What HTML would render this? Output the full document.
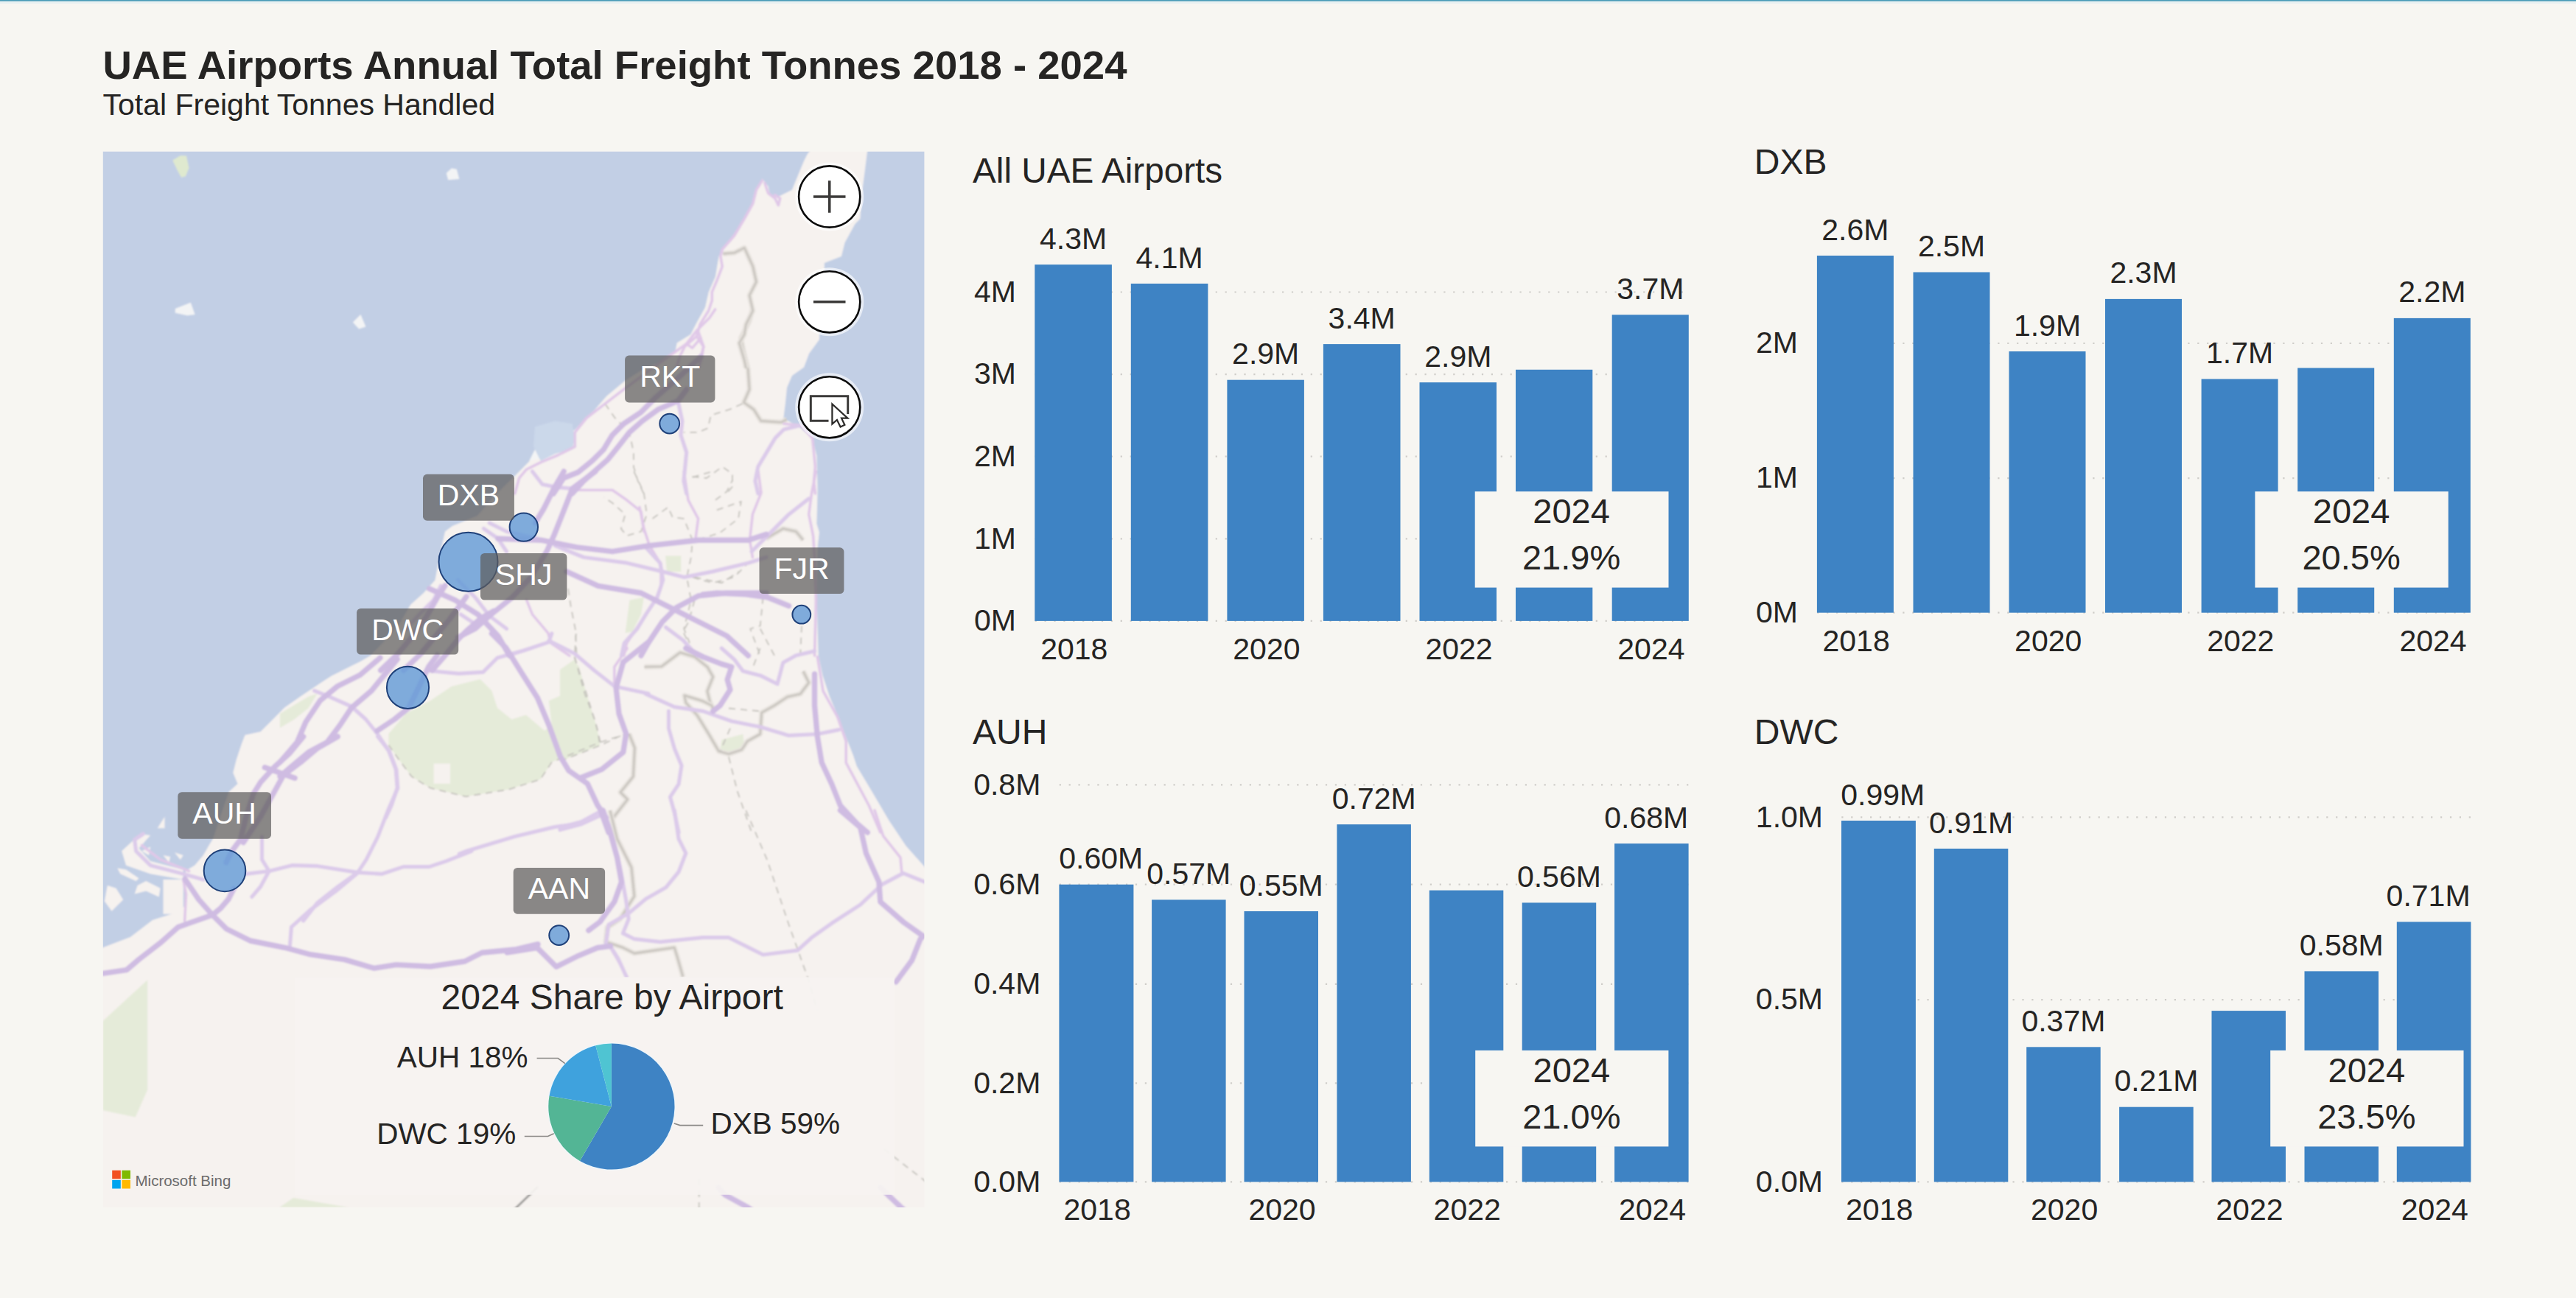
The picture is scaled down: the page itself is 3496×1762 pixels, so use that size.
<!DOCTYPE html>
<html lang="en"><head><meta charset="utf-8"><title>UAE Airports Annual Total Freight Tonnes 2018 - 2024</title>
<style>
html,body{margin:0;padding:0;background:#f7f6f2;overflow:hidden}
svg{display:block}
text{font-family:"Liberation Sans", Arial, sans-serif;}
</style></head><body>
<svg width="3496" height="1762" viewBox="0 0 3496 1762">
<rect x="0" y="0" width="3496" height="1762" fill="#f7f6f2"/>
<rect x="0" y="0" width="3496" height="5" fill="#e9f1f2"/>
<rect x="0" y="0" width="3496" height="1.6" fill="#4a9bb8"/>
<text x="139.5" y="107.2" font-size="54.5" text-anchor="start" fill="#252423" font-weight="bold" >UAE Airports Annual Total Freight Tonnes 2018 - 2024</text>
<text x="139.5" y="156.2" font-size="41" text-anchor="start" fill="#252423" font-weight="normal" >Total Freight Tonnes Handled</text>
<clipPath id="mapclip"><rect x="139.8" y="205.8" width="1114.6000000000001" height="1433.2"/></clipPath>
<filter id="soft" x="-2%" y="-2%" width="104%" height="104%"><feGaussianBlur stdDeviation="0.9"/></filter>
<g clip-path="url(#mapclip)">
<g filter="url(#soft)">
<rect x="119.80000000000001" y="185.8" width="1154.6000000000001" height="1473.2" fill="#c2cfe5"/>
<polygon points="1102.6,200.0 1095.7,209.2 1091.1,218.5 1085.3,232.4 1074.9,257.8 1063.3,263.5 1056.4,267.0 1044.9,264.7 1042.6,253.1 1034.5,242.7 1026.4,255.5 1021.8,273.9 1012.5,292.4 998.6,315.5 984.8,334.0 975.5,347.9 970.9,375.6 961.7,396.4 957.0,417.2 945.5,438.0 937.3,454.0 918.7,465.6 916.4,477.3 906.2,486.5 870.0,503.0 848.1,516.9 823.2,537.8 806.9,556.5 792.9,570.4 778.9,584.4 758.0,572.8 737.0,589.0 730.0,603.0 723.0,617.0 718.4,626.3 709.0,635.7 699.8,645.0 672.0,672.0 648.0,700.0 614.0,714.0 604.0,721.5 596.3,756.5 590.5,787.5 574.9,805.0 557.5,820.5 540.0,850.0 520.0,872.0 502.7,890.0 489.5,897.8 477.8,903.6 463.9,910.6 449.9,917.6 437.5,925.6 409.5,944.3 386.2,960.6 369.9,976.9 353.6,993.2 332.6,997.8 328.0,1009.5 321.0,1030.4 316.3,1049.0 322.5,1064.0 310.8,1074.7 300.0,1105.0 289.5,1137.8 283.6,1147.5 275.9,1161.1 264.2,1174.7 252.0,1182.0 251.0,1198.0 251.0,1230.0 235.0,1240.0 207.0,1249.0 177.0,1272.0 158.0,1279.3 139.8,1286.3 130.0,1290.0 130.0,1650.0 1260.0,1650.0 1260.0,1184.0 1254.5,1176.3 1229.7,1148.6 1206.6,1113.9 1183.5,1074.7 1162.7,1040.0 1158.1,1025.7 1148.9,1002.6 1137.3,972.6 1125.7,944.9 1116.5,917.1 1110.7,889.4 1109.6,852.4 1108.4,806.0 1109.6,743.4 1111.9,722.6 1108.4,711.1 1109.6,664.9 1108.4,618.6 1102.6,595.5 1085.0,580.0 1063.3,567.8 1065.7,549.3 1068.0,526.2 1074.9,510.0 1091.1,498.5 1098.0,480.0 1111.9,461.1 1113.0,420.0 1116.0,390.0 1118.8,366.4 1118.8,357.1 1141.9,347.9 1146.5,329.4 1160.4,304.0 1167.3,297.0 1170.0,260.0 1174.0,230.0 1176.6,209.0 1178.0,200.0" fill="#f6f2ef"/>
<polygon points="903.0,754.5 924.3,754.5 924.3,775.9 904.9,775.9" fill="#e5ebd9"/>
<polygon points="854.4,814.7 873.9,810.8 870.0,834.1 858.3,857.4 848.6,859.3" fill="#e5ebd9"/>
<polygon points="527.5,995.9 550.8,968.7 583.8,951.2 612.9,931.8 651.7,922.1 667.3,937.6 675.0,960.9 694.4,976.5 713.9,970.6 739.1,992.0 748.8,984.2 744.9,951.2 776.0,937.6 779.8,898.8 785.7,904.6 812.8,1003.6 748.8,1034.7 733.3,1058.0 690.6,1071.6 632.3,1081.3 583.8,1069.6 558.6,1054.1 541.1,1030.8 527.5,1011.4" fill="#e5ebd9"/>
<polygon points="380.0,968.7 399.4,957.0 418.8,945.4 430.5,941.5 418.8,960.9 399.4,976.5 380.0,988.1" fill="#e5ebd9"/>
<polygon points="760.0,909.1 779.4,895.5 794.9,938.2 810.5,988.7 814.3,1012.0 760.0,1033.3" fill="#e5ebd9"/>
<polygon points="979.3,1004.2 1008.4,996.5 1010.4,1015.9 991.0,1023.6 977.4,1017.8" fill="#e5ebd9"/>
<polygon points="139.6,1386.1 200.2,1330.2 200.2,1479.2 183.8,1516.5 139.6,1507.2" fill="#e5ebd9"/>
<polygon points="398.1,1626.0 472.7,1639.0 379.5,1639.0" fill="#e5ebd9"/>
<polygon points="234.3,217.5 244.8,211.2 253.0,211.6 256.5,228.0 251.8,239.6 246.0,240.8 240.2,230.3" fill="#dfe9cf"/>
<polygon points="605.8,234.9 612.8,228.4 619.8,229.8 623.3,243.1 608.2,244.3" fill="#f3f4f5"/>
<polygon points="237.8,418.9 258.8,410.8 264.6,427.1 254.1,428.3 237.8,424.8" fill="#f3f4f5"/>
<polygon points="478.9,437.6 489.4,427.1 496.4,443.4 487.1,446.4" fill="#f3f4f5"/>
<polygon points="733.8,594.7 724.1,614.1 718.2,625.7 733.8,621.9" fill="#f3f4f5"/>
<polygon points="726.0,579.2 753.2,571.4 776.5,575.3 780.3,594.7 776.5,610.2 753.2,616.0 733.8,625.7 724.1,606.3" fill="#cbd8ea"/>
<polygon points="588.7,1036.6 611.0,1036.6 611.0,1063.8 588.7,1063.8" fill="#f6f2ef"/>
<polygon points="165.2,1155.3 190.5,1132.0 204.1,1133.9 188.5,1151.4 204.1,1168.9 248.7,1180.5 248.7,1194.1 204.1,1186.3 171.1,1174.7" fill="#f6f2ef"/>
<polygon points="159.4,1178.6 171.1,1180.5 188.5,1192.2 184.6,1196.0 163.3,1186.3" fill="#f6f2ef"/>
<polygon points="186.6,1201.9 198.2,1196.0 217.6,1205.7 215.7,1217.4 198.2,1209.6 182.7,1213.5" fill="#f6f2ef"/>
<polygon points="145.8,1201.9 157.5,1205.7 167.2,1221.3 151.6,1236.8 141.9,1223.2" fill="#f6f2ef"/>
<polygon points="192.4,1155.3 204.1,1149.5 202.1,1161.1" fill="#f6f2ef"/>
<polygon points="221.5,1161.1 231.2,1163.0 229.3,1170.8" fill="#f6f2ef"/>
<polygon points="237.0,1157.2 248.7,1161.1 244.8,1166.9" fill="#f6f2ef"/>
<polygon points="213.8,1124.2 223.5,1108.7 223.5,1124.2" fill="#f6f2ef"/>
<polygon points="221.5,1194.1 248.7,1194.1 248.7,1240.7 221.5,1240.7" fill="#f6f2ef"/>
<polyline points="1021.0,420.0 1017.1,435.5 1005.5,458.8 1009.4,478.2 1015.2,501.5 1017.1,528.7 1009.4,546.2 1023.0,555.9 1032.7,571.4 1059.8,573.3 1067.6,569.5" fill="none" stroke="#e6e2dd" stroke-width="7" stroke-linejoin="round"/>
<polyline points="1021.0,420.0 1017.1,435.5 1005.5,458.8 1009.4,478.2 1015.2,501.5 1017.1,528.7 1009.4,546.2 1023.0,555.9 1032.7,571.4 1059.8,573.3 1067.6,569.5" fill="none" stroke="#c9c5bf" stroke-width="2.6" stroke-linejoin="round"/>
<polyline points="853.6,995.9 861.4,1015.3 859.4,1054.1 842.0,1075.5 851.7,1085.2 832.3,1110.0" fill="none" stroke="#e6e2dd" stroke-width="7" stroke-linejoin="round"/>
<polyline points="853.6,995.9 861.4,1015.3 859.4,1054.1 842.0,1075.5 851.7,1085.2 832.3,1110.0" fill="none" stroke="#c9c5bf" stroke-width="2.6" stroke-linejoin="round"/>
<polyline points="1039.5,731.2 1062.8,717.6 1080.3,721.5 1090.0,733.2" fill="none" stroke="#e6e2dd" stroke-width="7" stroke-linejoin="round"/>
<polyline points="1039.5,731.2 1062.8,717.6 1080.3,721.5 1090.0,733.2" fill="none" stroke="#c9c5bf" stroke-width="2.6" stroke-linejoin="round"/>
<polyline points="874.5,905.2 897.8,904.8 923.0,885.8 942.5,891.6 959.9,905.2 967.7,918.8 959.9,938.2 963.8,953.8 969.6,965.4" fill="none" stroke="#e6e2dd" stroke-width="7" stroke-linejoin="round"/>
<polyline points="874.5,905.2 897.8,904.8 923.0,885.8 942.5,891.6 959.9,905.2 967.7,918.8 959.9,938.2 963.8,953.8 969.6,965.4" fill="none" stroke="#c9c5bf" stroke-width="2.6" stroke-linejoin="round"/>
<polyline points="965.7,957.6 954.1,951.8 928.9,944.1 930.8,953.8 946.3,971.2 961.9,996.5 975.5,1019.8 989.0,1023.6 1006.5,1017.8 1014.3,1006.2 1031.7,996.5 1033.7,967.3 1051.1,957.6 1068.6,946.0 1086.1,942.1 1097.7,926.6 1090.0,911.1" fill="none" stroke="#e6e2dd" stroke-width="7" stroke-linejoin="round"/>
<polyline points="965.7,957.6 954.1,951.8 928.9,944.1 930.8,953.8 946.3,971.2 961.9,996.5 975.5,1019.8 989.0,1023.6 1006.5,1017.8 1014.3,1006.2 1031.7,996.5 1033.7,967.3 1051.1,957.6 1068.6,946.0 1086.1,942.1 1097.7,926.6 1090.0,911.1" fill="none" stroke="#c9c5bf" stroke-width="2.6" stroke-linejoin="round"/>
<polyline points="827.9,1100.0 837.6,1138.8 857.0,1177.6 860.9,1216.5 841.5,1247.5 824.1,1259.2 822.1,1278.6 845.4,1286.3 860.9,1294.1 915.3,1286.3 921.1,1305.7 926.9,1326.1" fill="none" stroke="#e6e2dd" stroke-width="7" stroke-linejoin="round"/>
<polyline points="827.9,1100.0 837.6,1138.8 857.0,1177.6 860.9,1216.5 841.5,1247.5 824.1,1259.2 822.1,1278.6 845.4,1286.3 860.9,1294.1 915.3,1286.3 921.1,1305.7 926.9,1326.1" fill="none" stroke="#c9c5bf" stroke-width="2.6" stroke-linejoin="round"/>
<polyline points="981.3,344.4 996.3,343.3 1010.2,336.3 1021.8,361.8 1026.4,382.6 1017.1,401.0 1021.8,421.8 1012.5,440.3 1010.2,454.2 1003.3,465.7 1010.2,488.9 1012.5,499.9" fill="none" stroke="#e6e2dd" stroke-width="7" stroke-linejoin="round"/>
<polyline points="981.3,344.4 996.3,343.3 1010.2,336.3 1021.8,361.8 1026.4,382.6 1017.1,401.0 1021.8,421.8 1012.5,440.3 1010.2,454.2 1003.3,465.7 1010.2,488.9 1012.5,499.9" fill="none" stroke="#c9c5bf" stroke-width="2.6" stroke-linejoin="round"/>
<polyline points="1007.4,548.1 990.0,555.9 964.7,563.6 960.9,581.1 947.3,586.9 927.9,586.9" fill="none" stroke="#c4c2bc" stroke-width="1.8" stroke-dasharray="9 7" stroke-linejoin="round"/>
<polyline points="821.1,548.1 834.7,567.5 854.1,586.9 859.9,614.1 859.9,633.5 865.7,652.9 873.5,670.0" fill="none" stroke="#c4c2bc" stroke-width="1.8" stroke-dasharray="9 7" stroke-linejoin="round"/>
<polyline points="939.5,647.1 958.9,649.0 980.3,633.5 993.9,643.2 993.9,660.7 986.1,670.0" fill="none" stroke="#c4c2bc" stroke-width="1.8" stroke-dasharray="9 7" stroke-linejoin="round"/>
<polyline points="771.0,799.2 774.9,824.4 780.7,853.5 782.6,890.0" fill="none" stroke="#c4c2bc" stroke-width="1.8" stroke-dasharray="9 7" stroke-linejoin="round"/>
<polyline points="860.3,640.0 873.9,669.1 877.7,698.2 870.0,721.5 850.6,727.3 842.8,717.6 848.6,698.2 831.1,682.7 819.5,674.9" fill="none" stroke="#c4c2bc" stroke-width="1.8" stroke-dasharray="9 7" stroke-linejoin="round"/>
<polyline points="885.5,704.1 906.8,688.5 912.7,702.1 928.2,704.1 939.8,733.2 937.9,756.5 932.1,783.6 937.9,814.7 928.2,853.5 936.0,872.9" fill="none" stroke="#c4c2bc" stroke-width="1.8" stroke-dasharray="9 7" stroke-linejoin="round"/>
<polyline points="939.8,647.8 967.0,640.0" fill="none" stroke="#c4c2bc" stroke-width="1.8" stroke-dasharray="9 7" stroke-linejoin="round"/>
<polyline points="970.9,678.8 986.4,667.2 994.2,651.6" fill="none" stroke="#c4c2bc" stroke-width="1.8" stroke-dasharray="9 7" stroke-linejoin="round"/>
<polyline points="972.8,692.4 1005.8,680.8 1002.0,704.1 976.7,723.5 951.5,731.2" fill="none" stroke="#c4c2bc" stroke-width="1.8" stroke-dasharray="9 7" stroke-linejoin="round"/>
<polyline points="939.8,783.6 967.0,791.4 996.1,783.6 1015.5,764.2" fill="none" stroke="#c4c2bc" stroke-width="1.8" stroke-dasharray="9 7" stroke-linejoin="round"/>
<polyline points="781.8,860.0 779.8,891.1 793.4,941.5 807.0,976.5 814.8,1007.5 748.8,1034.7 733.3,1058.0 690.6,1071.6 632.3,1081.3 583.8,1069.6 558.6,1054.1 541.1,1030.8 527.5,1011.4" fill="none" stroke="#c4c2bc" stroke-width="1.8" stroke-dasharray="9 7" stroke-linejoin="round"/>
<polyline points="814.8,1007.5 851.7,995.9" fill="none" stroke="#c4c2bc" stroke-width="1.8" stroke-dasharray="9 7" stroke-linejoin="round"/>
<polyline points="1035.6,810.8 1031.7,849.6 1018.2,853.5 1031.7,890.0" fill="none" stroke="#c4c2bc" stroke-width="1.8" stroke-dasharray="9 7" stroke-linejoin="round"/>
<polyline points="1088.0,849.6 1086.1,890.0" fill="none" stroke="#c4c2bc" stroke-width="1.8" stroke-dasharray="9 7" stroke-linejoin="round"/>
<polyline points="1031.7,853.5 1051.1,890.0" fill="none" stroke="#c4c2bc" stroke-width="1.8" stroke-dasharray="9 7" stroke-linejoin="round"/>
<polyline points="942.5,783.6 979.3,791.4 1002.6,775.9" fill="none" stroke="#c4c2bc" stroke-width="1.8" stroke-dasharray="9 7" stroke-linejoin="round"/>
<polyline points="942.5,814.7 934.7,843.8 926.9,857.4 934.7,872.9" fill="none" stroke="#c4c2bc" stroke-width="1.8" stroke-dasharray="9 7" stroke-linejoin="round"/>
<polyline points="779.4,891.6 794.9,938.2 810.5,988.7 814.3,1012.0" fill="none" stroke="#c4c2bc" stroke-width="1.8" stroke-dasharray="9 7" stroke-linejoin="round"/>
<polyline points="760.0,1033.3 814.3,1012.0 847.3,996.5" fill="none" stroke="#c4c2bc" stroke-width="1.8" stroke-dasharray="9 7" stroke-linejoin="round"/>
<polyline points="989.0,961.5 1031.7,965.4" fill="none" stroke="#c4c2bc" stroke-width="1.8" stroke-dasharray="9 7" stroke-linejoin="round"/>
<polyline points="991.0,988.7 977.4,1019.8" fill="none" stroke="#c4c2bc" stroke-width="1.8" stroke-dasharray="9 7" stroke-linejoin="round"/>
<polyline points="989.0,1027.5 1000.7,1074.1 1020.1,1130.0" fill="none" stroke="#c4c2bc" stroke-width="1.8" stroke-dasharray="9 7" stroke-linejoin="round"/>
<polyline points="1031.7,880.0 1022.0,905.2" fill="none" stroke="#c4c2bc" stroke-width="1.8" stroke-dasharray="9 7" stroke-linejoin="round"/>
<polyline points="1012.3,1100.0 1041.4,1167.9 1070.6,1255.3 1095.8,1326.1 1109.4,1371.7" fill="none" stroke="#c4c2bc" stroke-width="1.8" stroke-dasharray="9 7" stroke-linejoin="round"/>
<polyline points="948.7,1600.0 948.7,1645.0" fill="none" stroke="#c4c2bc" stroke-width="1.8" stroke-dasharray="9 7" stroke-linejoin="round"/>
<polyline points="1200.0,1560.0 1214.0,1571.0 1254.0,1602.0 1270.0,1615.0" fill="none" stroke="#c4c2bc" stroke-width="1.8" stroke-dasharray="9 7" stroke-linejoin="round"/>
<polyline points="690.0,1650.0 701.0,1639.0 718.6,1622.0 730.0,1611.0" fill="none" stroke="#9b9a98" stroke-width="3"/>
<polyline points="970.6,420.0 962.8,431.6 945.3,449.1 931.7,466.6 918.2,476.3 883.2,501.5 846.3,528.7 821.1,548.1 795.9,567.5 780.3,586.9 780.3,606.3 757.0,618.0 733.8,627.7 714.3,637.4 704.6,649.0 698.8,670.0" fill="none" stroke="#e0c8e8" stroke-width="3.6" stroke-linejoin="round" stroke-linecap="round"/>
<polyline points="947.3,449.1 955.0,470.5 951.1,484.1 935.6,497.6" fill="none" stroke="#e0c8e8" stroke-width="3.6" stroke-linejoin="round" stroke-linecap="round"/>
<polyline points="931.7,466.6 939.5,472.4 951.1,458.8" fill="none" stroke="#e0c8e8" stroke-width="3.6" stroke-linejoin="round" stroke-linecap="round"/>
<polyline points="1063.7,575.3 1087.0,577.2 1102.5,594.7 1104.5,614.1 1106.4,633.5 1104.5,652.9 1106.4,670.0" fill="none" stroke="#e0c8e8" stroke-width="3.6" stroke-linejoin="round" stroke-linecap="round"/>
<polyline points="868.0,688.5 873.9,717.6 881.6,740.9 897.1,766.2 897.1,795.3 889.4,814.7 870.0,843.8 850.6,872.9 846.7,890.0" fill="none" stroke="#e0c8e8" stroke-width="3.6" stroke-linejoin="round" stroke-linecap="round"/>
<polyline points="772.9,665.2 831.1,665.2 850.6,678.8 870.0,694.3 873.9,721.5" fill="none" stroke="#e0c8e8" stroke-width="3.6" stroke-linejoin="round" stroke-linecap="round"/>
<polyline points="928.2,640.0 934.0,678.8 947.6,704.1 943.7,733.2" fill="none" stroke="#e0c8e8" stroke-width="3.6" stroke-linejoin="round" stroke-linecap="round"/>
<polyline points="1029.1,640.0 1033.0,669.1 1021.4,698.2 1017.5,733.2 1021.4,756.5" fill="none" stroke="#e0c8e8" stroke-width="3.6" stroke-linejoin="round" stroke-linecap="round"/>
<polyline points="714.7,814.7 722.5,834.1 743.8,859.3 747.7,872.9 772.9,890.0" fill="none" stroke="#e0c8e8" stroke-width="3.6" stroke-linejoin="round" stroke-linecap="round"/>
<polyline points="747.7,871.0 714.7,882.6 691.4,890.0" fill="none" stroke="#e0c8e8" stroke-width="3.6" stroke-linejoin="round" stroke-linecap="round"/>
<polyline points="256.5,1182.5 217.6,1166.9 192.4,1147.5" fill="none" stroke="#e0c8e8" stroke-width="3.6" stroke-linejoin="round" stroke-linecap="round"/>
<polyline points="248.7,1194.1 252.6,1213.5 250.6,1250.0" fill="none" stroke="#e0c8e8" stroke-width="3.6" stroke-linejoin="round" stroke-linecap="round"/>
<polyline points="1107.4,640.0 1101.6,669.1 1097.7,698.2 1103.6,727.3 1105.5,756.5 1107.4,814.7 1105.5,890.0" fill="none" stroke="#e0c8e8" stroke-width="3.6" stroke-linejoin="round" stroke-linecap="round"/>
<polyline points="851.2,880.0 833.8,905.2 833.8,932.4" fill="none" stroke="#e0c8e8" stroke-width="3.6" stroke-linejoin="round" stroke-linecap="round"/>
<polyline points="1109.4,891.6 1117.1,938.2 1136.6,973.2 1148.2,1006.2 1148.2,1035.3 1163.7,1064.4 1179.3,1093.5 1194.8,1130.0" fill="none" stroke="#e0c8e8" stroke-width="3.6" stroke-linejoin="round" stroke-linecap="round"/>
<polyline points="1187.0,1100.0 1198.7,1134.9 1222.0,1164.1 1223.9,1185.4" fill="none" stroke="#e0c8e8" stroke-width="3.6" stroke-linejoin="round" stroke-linecap="round"/>
<polyline points="760.0,1309.6 808.5,1286.3 826.0,1282.5 837.6,1301.9 851.2,1326.1" fill="none" stroke="#e0c8e8" stroke-width="3.6" stroke-linejoin="round" stroke-linecap="round"/>
<polyline points="1034.5,245.1 1026.4,257.8 1021.8,276.3 1010.2,297.1 996.3,320.2 980.2,338.6 977.9,347.9 980.2,361.8 973.2,380.2 966.3,396.4 966.3,408.0 961.7,421.8 950.1,440.3 945.5,456.5 929.3,470.4 922.4,484.2 917.8,499.9" fill="none" stroke="#e0c8e8" stroke-width="3.6" stroke-linejoin="round" stroke-linecap="round"/>
<polyline points="945.5,456.5 954.7,470.4 952.4,486.5 947.8,499.9" fill="none" stroke="#e0c8e8" stroke-width="3.6" stroke-linejoin="round" stroke-linecap="round"/>
<polyline points="1037.9,248.5 1042.6,262.4 1051.8,269.3 1056.4,278.6 1058.7,269.3 1051.8,264.7" fill="none" stroke="#e0c8e8" stroke-width="3.6" stroke-linejoin="round" stroke-linecap="round"/>
<polyline points="920.1,544.2 925.9,571.4 924.0,590.8 931.7,614.1 929.8,633.5 927.9,652.9 931.7,670.0" fill="none" stroke="#dccbea" stroke-width="5.2" stroke-linejoin="round" stroke-linecap="round"/>
<polyline points="1087.0,577.2 1063.7,583.0 1052.1,594.7 1040.4,614.1 1028.8,633.5 1024.9,652.9 1028.8,670.0" fill="none" stroke="#dccbea" stroke-width="5.2" stroke-linejoin="round" stroke-linecap="round"/>
<polyline points="722.5,640.0 736.0,657.5 755.5,661.4 776.8,663.3" fill="none" stroke="#dccbea" stroke-width="5.2" stroke-linejoin="round" stroke-linecap="round"/>
<polyline points="753.5,740.9 792.3,756.5 850.6,764.2 899.1,775.9 928.2,783.6 967.0,775.9 1015.5,764.2 1040.0,756.5" fill="none" stroke="#dccbea" stroke-width="5.2" stroke-linejoin="round" stroke-linecap="round"/>
<polyline points="621.5,787.5 644.8,810.8 664.2,836.0 687.5,853.5" fill="none" stroke="#dccbea" stroke-width="5.2" stroke-linejoin="round" stroke-linecap="round"/>
<polyline points="598.2,795.3 588.5,814.7 569.1,834.1 551.6,853.5" fill="none" stroke="#dccbea" stroke-width="5.2" stroke-linejoin="round" stroke-linecap="round"/>
<polyline points="656.5,717.6 675.9,731.2 687.5,748.7" fill="none" stroke="#dccbea" stroke-width="5.2" stroke-linejoin="round" stroke-linecap="round"/>
<polyline points="664.2,709.9 687.5,721.5 730.2,731.2" fill="none" stroke="#dccbea" stroke-width="5.2" stroke-linejoin="round" stroke-linecap="round"/>
<polyline points="625.4,834.1 648.7,849.6 664.2,836.0" fill="none" stroke="#dccbea" stroke-width="5.2" stroke-linejoin="round" stroke-linecap="round"/>
<polyline points="426.6,937.6 446.0,945.4 477.0,959.0 496.5,976.5 512.0,995.9 527.5,1019.2 537.2,1044.4 539.2,1069.6 531.4,1092.9 523.6,1110.0" fill="none" stroke="#dccbea" stroke-width="5.2" stroke-linejoin="round" stroke-linecap="round"/>
<polyline points="581.9,910.5 622.6,914.3 655.6,912.4 675.0,893.0 710.0,883.3 744.9,871.6 748.8,860.0" fill="none" stroke="#dccbea" stroke-width="5.2" stroke-linejoin="round" stroke-linecap="round"/>
<polyline points="744.9,869.7 779.8,887.2 807.0,910.5 834.2,931.8 880.0,941.5" fill="none" stroke="#dccbea" stroke-width="5.2" stroke-linejoin="round" stroke-linecap="round"/>
<polyline points="512.7,1000.0 528.2,1019.4 537.9,1044.6 539.8,1069.9 526.3,1100.9 512.7,1135.9 497.1,1166.9 485.5,1184.4 458.3,1203.8 431.1,1225.2 411.7,1250.0" fill="none" stroke="#dccbea" stroke-width="5.2" stroke-linejoin="round" stroke-linecap="round"/>
<polyline points="334.1,1186.3 365.2,1182.5 396.2,1174.7 431.1,1175.7 485.5,1184.4 518.5,1186.3 547.6,1176.6 582.5,1176.6 605.8,1168.9 640.0,1155.3" fill="none" stroke="#dccbea" stroke-width="5.2" stroke-linejoin="round" stroke-linecap="round"/>
<polyline points="355.5,1135.9 355.5,1166.9 365.2,1182.5 353.5,1203.8 341.9,1217.4" fill="none" stroke="#dccbea" stroke-width="5.2" stroke-linejoin="round" stroke-linecap="round"/>
<polyline points="275.9,1194.1 248.7,1186.3 204.1,1174.7 184.6,1155.3 182.7,1139.8 194.3,1132.0" fill="none" stroke="#dccbea" stroke-width="5.2" stroke-linejoin="round" stroke-linecap="round"/>
<polyline points="393.2,1286.3 395.5,1258.4 421.2,1235.1 456.1,1209.5 484.0,1186.2" fill="none" stroke="#dccbea" stroke-width="5.2" stroke-linejoin="round" stroke-linecap="round"/>
<polyline points="1097.7,676.9 1070.6,698.2 1041.4,727.3 1020.1,748.7" fill="none" stroke="#dccbea" stroke-width="5.2" stroke-linejoin="round" stroke-linecap="round"/>
<polyline points="903.6,851.6 926.9,869.0 946.3,890.0" fill="none" stroke="#dccbea" stroke-width="5.2" stroke-linejoin="round" stroke-linecap="round"/>
<polyline points="876.5,742.9 895.9,764.2 899.8,787.5 892.0,810.8 876.5,834.1 864.8,853.5 847.3,872.9 843.5,890.0" fill="none" stroke="#dccbea" stroke-width="5.2" stroke-linejoin="round" stroke-linecap="round"/>
<polyline points="876.5,942.1 915.3,959.6 954.1,965.4 992.9,979.0 1031.7,986.8 1070.6,998.4 1109.4,996.5 1138.5,990.6" fill="none" stroke="#dccbea" stroke-width="5.2" stroke-linejoin="round" stroke-linecap="round"/>
<polyline points="907.5,965.4 907.5,988.7 915.3,1015.9 925.0,1039.2 921.1,1064.4 909.5,1081.9 915.3,1103.2 921.1,1130.0" fill="none" stroke="#dccbea" stroke-width="5.2" stroke-linejoin="round" stroke-linecap="round"/>
<polyline points="979.3,880.0 996.8,895.5 1008.4,911.1 1031.7,916.9 1055.0,928.5 1062.8,899.4 1080.3,889.7 1105.5,883.9" fill="none" stroke="#dccbea" stroke-width="5.2" stroke-linejoin="round" stroke-linecap="round"/>
<polyline points="760.0,1126.5 789.1,1118.7 814.3,1107.1" fill="none" stroke="#dccbea" stroke-width="5.2" stroke-linejoin="round" stroke-linecap="round"/>
<polyline points="760.0,1123.3 789.1,1115.5 814.3,1101.9" fill="none" stroke="#dccbea" stroke-width="5.2" stroke-linejoin="round" stroke-linecap="round"/>
<polyline points="826.0,1119.4 841.5,1177.6 849.3,1220.3 853.2,1247.5 845.4,1266.9 860.9,1274.7 895.9,1278.6 954.1,1272.7 989.0,1272.7 1012.3,1284.4 1035.6,1296.0 1082.2,1290.2 1101.6,1272.7 1128.8,1253.3 1167.6,1228.1 1196.7,1200.9 1225.8,1185.4 1254.6,1197.0" fill="none" stroke="#dccbea" stroke-width="5.2" stroke-linejoin="round" stroke-linecap="round"/>
<polyline points="915.3,1100.0 921.1,1138.8 930.8,1158.2 921.1,1183.5 903.6,1204.8 876.5,1220.3 853.2,1239.8 826.0,1255.3 822.1,1282.5" fill="none" stroke="#dccbea" stroke-width="5.2" stroke-linejoin="round" stroke-linecap="round"/>
<polyline points="623.3,1159.2 634.1,1154.9 698.8,1135.5 752.8,1122.6 785.1,1118.2 817.5,1103.1" fill="none" stroke="#dccbea" stroke-width="5.2" stroke-linejoin="round" stroke-linecap="round"/>
<polyline points="828.3,1284.3 839.1,1301.6 849.8,1325.3" fill="none" stroke="#dccbea" stroke-width="5.2" stroke-linejoin="round" stroke-linecap="round"/>
<polyline points="951.1,484.1 920.1,513.2 889.0,540.3 869.6,559.8 846.3,575.3 830.8,590.8 819.2,610.2 803.6,625.7 784.2,641.3 764.8,649.0 751.2,670.0" fill="none" stroke="#cfbce2" stroke-width="7.4" stroke-linejoin="round" stroke-linecap="round"/>
<polyline points="931.7,528.7 920.1,544.2 892.9,555.9 871.6,571.4 854.1,586.9 840.5,604.4 825.0,623.8 807.5,639.3 792.0,652.9 776.5,670.0" fill="none" stroke="#cfbce2" stroke-width="7.4" stroke-linejoin="round" stroke-linecap="round"/>
<polyline points="807.9,640.0 776.8,663.3 763.2,698.2 751.6,727.3 741.9,748.7 720.5,783.6 695.3,810.8 664.2,836.0 644.8,853.5 621.5,865.2" fill="none" stroke="#cfbce2" stroke-width="7.4" stroke-linejoin="round" stroke-linecap="round"/>
<polyline points="765.2,640.0 751.6,663.3 738.0,690.5 726.3,709.9" fill="none" stroke="#cfbce2" stroke-width="7.4" stroke-linejoin="round" stroke-linecap="round"/>
<polyline points="675.9,731.2 734.1,733.2 782.6,742.9 831.1,748.7 879.7,740.9 947.6,733.2 1015.5,733.2 1040.0,725.4" fill="none" stroke="#cfbce2" stroke-width="7.4" stroke-linejoin="round" stroke-linecap="round"/>
<polyline points="769.0,775.9 811.7,795.3 870.0,805.0 908.8,824.4 947.6,843.8 986.4,863.2 1015.5,890.0" fill="none" stroke="#cfbce2" stroke-width="7.4" stroke-linejoin="round" stroke-linecap="round"/>
<polyline points="1040.0,805.0 986.4,805.0 947.6,808.9 918.5,824.4 899.1,843.8 879.7,872.9 870.0,890.0" fill="none" stroke="#cfbce2" stroke-width="7.4" stroke-linejoin="round" stroke-linecap="round"/>
<polyline points="582.7,799.2 617.6,814.7 648.7,834.1 675.9,863.2 691.4,890.0" fill="none" stroke="#cfbce2" stroke-width="7.4" stroke-linejoin="round" stroke-linecap="round"/>
<polyline points="593.5,889.1 581.9,904.6 554.7,960.9 535.3,976.5 512.0,992.0" fill="none" stroke="#cfbce2" stroke-width="7.4" stroke-linejoin="round" stroke-linecap="round"/>
<polyline points="515.9,893.0 488.7,916.3 457.6,931.8 434.3,951.2 414.9,980.3 403.3,1007.5 380.0,1034.7" fill="none" stroke="#cfbce2" stroke-width="7.4" stroke-linejoin="round" stroke-linecap="round"/>
<polyline points="539.2,894.9 504.2,937.6 477.0,960.9 461.5,984.2 444.1,1007.5 418.8,1021.1 395.5,1040.5 380.0,1054.1" fill="none" stroke="#cfbce2" stroke-width="7.4" stroke-linejoin="round" stroke-linecap="round"/>
<polyline points="667.3,860.0 686.7,879.4 706.1,910.5 729.4,947.3 744.9,984.2 760.4,1026.9 772.1,1046.3 797.3,1063.8 810.9,1092.9 822.5,1110.0" fill="none" stroke="#cfbce2" stroke-width="7.4" stroke-linejoin="round" stroke-linecap="round"/>
<polyline points="880.0,871.6 845.8,898.8 836.1,933.8 840.0,968.7 849.7,995.9 845.8,1021.1 816.7,1044.4 787.6,1056.0" fill="none" stroke="#cfbce2" stroke-width="7.4" stroke-linejoin="round" stroke-linecap="round"/>
<polyline points="411.7,1000.0 392.3,1023.3 372.9,1040.8 353.5,1062.1 343.8,1077.6 334.1,1108.7 326.3,1139.8 314.7,1155.3 306.9,1170.8" fill="none" stroke="#cfbce2" stroke-width="7.4" stroke-linejoin="round" stroke-linecap="round"/>
<polyline points="458.3,1000.0 431.1,1015.5 407.9,1034.9 384.6,1052.4 372.9,1073.8 353.5,1108.7 330.2,1143.6" fill="none" stroke="#cfbce2" stroke-width="7.4" stroke-linejoin="round" stroke-linecap="round"/>
<polyline points="359.3,1041.7 400.1,1056.3" fill="none" stroke="#cfbce2" stroke-width="7.4" stroke-linejoin="round" stroke-linecap="round"/>
<polyline points="251.1,1193.2 269.8,1221.1 288.4,1242.1 307.0,1260.7 339.6,1277.0 386.2,1286.3 421.2,1295.7 467.7,1302.6 507.3,1314.3 537.6,1309.6 584.2,1312.0 630.8,1305.0 654.1,1293.3 700.7,1288.7 730.0,1281.7" fill="none" stroke="#cfbce2" stroke-width="7.4" stroke-linejoin="round" stroke-linecap="round"/>
<polyline points="288.4,1242.1 241.8,1258.4 218.5,1279.3 188.2,1302.6 171.9,1316.6 139.8,1321.3" fill="none" stroke="#cfbce2" stroke-width="7.4" stroke-linejoin="round" stroke-linecap="round"/>
<polyline points="954.1,806.9 973.5,805.0 1012.3,806.9 1041.4,810.8 1070.6,822.5" fill="none" stroke="#cfbce2" stroke-width="7.4" stroke-linejoin="round" stroke-linecap="round"/>
<polyline points="930.8,880.0 954.1,891.6 979.3,901.4 992.9,905.2 987.1,922.7 991.0,936.3 977.4,957.6 967.7,965.4" fill="none" stroke="#cfbce2" stroke-width="7.4" stroke-linejoin="round" stroke-linecap="round"/>
<polyline points="1105.5,914.9 1105.5,957.6 1109.4,1000.3 1115.2,1035.3 1128.8,1064.4 1140.4,1093.5 1163.7,1118.7 1177.3,1130.0" fill="none" stroke="#cfbce2" stroke-width="7.4" stroke-linejoin="round" stroke-linecap="round"/>
<polyline points="816.3,1103.2 826.0,1130.0" fill="none" stroke="#cfbce2" stroke-width="7.4" stroke-linejoin="round" stroke-linecap="round"/>
<polyline points="818.2,1100.0 827.9,1129.1 837.6,1164.1 843.5,1197.0 833.8,1224.2 814.3,1251.4 798.8,1263.0" fill="none" stroke="#cfbce2" stroke-width="7.4" stroke-linejoin="round" stroke-linecap="round"/>
<polyline points="1140.4,1100.0 1167.6,1123.3 1175.4,1158.2 1192.8,1197.0 1194.8,1224.2 1225.8,1251.4 1253.0,1270.8 1249.1,1274.7 1237.5,1303.8 1216.1,1332.9" fill="none" stroke="#cfbce2" stroke-width="7.4" stroke-linejoin="round" stroke-linecap="round"/>
<polyline points="688.1,1293.0 729.0,1286.5 737.7,1295.1 754.9,1312.4 785.1,1297.3 811.0,1286.5 828.3,1284.3" fill="none" stroke="#cfbce2" stroke-width="7.4" stroke-linejoin="round" stroke-linecap="round"/>
<polyline points="975.0,1612.0 984.0,1622.0 1015.0,1639.0 1030.0,1650.0" fill="none" stroke="#cfbce2" stroke-width="7.4" stroke-linejoin="round" stroke-linecap="round"/>
<polyline points="1195.0,1612.0 1205.0,1622.0 1223.0,1639.0 1235.0,1650.0" fill="none" stroke="#cfbce2" stroke-width="7.4" stroke-linejoin="round" stroke-linecap="round"/>
<polyline points="317.2,1206.3 310.1,1220.5 299.5,1232.9 288.3,1242.1" fill="none" stroke="#cfbce2" stroke-width="7.4" stroke-linejoin="round" stroke-linecap="round"/>
<polyline points="516.6,910.0 539.9,887.6 559.3,864.3 578.7,837.2 594.2,810.0 604.0,795.0" fill="none" stroke="#cfbce2" stroke-width="7.4" stroke-linejoin="round" stroke-linecap="round"/>
<polyline points="547.6,910.0 570.9,887.6 590.3,864.3 609.8,841.0 621.4,825.5 633.0,810.0" fill="none" stroke="#cfbce2" stroke-width="7.4" stroke-linejoin="round" stroke-linecap="round"/>
<polyline points="586.5,910.0 605.9,887.6 621.4,868.2 633.0,856.6 652.5,839.5 670.0,829.4" fill="none" stroke="#cfbce2" stroke-width="7.4" stroke-linejoin="round" stroke-linecap="round"/>
</g>
<rect x="400" y="1326.4" width="813.7" height="295.4" fill="#f6f3f1" fill-opacity="0.93"/>
</g>
<circle cx="908.7" cy="575.1" r="13.4" fill="#649bd7" fill-opacity="0.82" stroke="#1e4079" stroke-width="2"/>
<circle cx="710.8" cy="715.6" r="19.2" fill="#649bd7" fill-opacity="0.82" stroke="#1e4079" stroke-width="2"/>
<circle cx="635.5" cy="762.7" r="40" fill="#649bd7" fill-opacity="0.82" stroke="#1e4079" stroke-width="2"/>
<circle cx="553.5" cy="933.3" r="28.6" fill="#649bd7" fill-opacity="0.82" stroke="#1e4079" stroke-width="2"/>
<circle cx="305" cy="1181.9" r="28.3" fill="#649bd7" fill-opacity="0.82" stroke="#1e4079" stroke-width="2"/>
<circle cx="1087.8" cy="834.2" r="12.4" fill="#649bd7" fill-opacity="0.82" stroke="#1e4079" stroke-width="2"/>
<circle cx="758.7" cy="1269.6" r="13.4" fill="#649bd7" fill-opacity="0.82" stroke="#1e4079" stroke-width="2"/>
<rect x="848.1" y="482.6" width="122.3" height="63.8" rx="5.5" fill="#5e5d5d" fill-opacity="0.72"/>
<text x="909.2" y="525.1" font-size="41" text-anchor="middle" fill="#ffffff">RKT</text>
<rect x="574" y="643.8" width="123.9" height="62.9" rx="5.5" fill="#5e5d5d" fill-opacity="0.72"/>
<text x="636.0" y="686.3" font-size="41" text-anchor="middle" fill="#ffffff">DXB</text>
<rect x="652" y="751" width="117.4" height="63.6" rx="5.5" fill="#5e5d5d" fill-opacity="0.72"/>
<text x="710.7" y="793.5" font-size="41" text-anchor="middle" fill="#ffffff">SHJ</text>
<rect x="484.1" y="826" width="138.1" height="62.5" rx="5.5" fill="#5e5d5d" fill-opacity="0.72"/>
<text x="553.2" y="868.5" font-size="41" text-anchor="middle" fill="#ffffff">DWC</text>
<rect x="241.3" y="1075.2" width="126.7" height="63.5" rx="5.5" fill="#5e5d5d" fill-opacity="0.72"/>
<text x="304.6" y="1117.7" font-size="41" text-anchor="middle" fill="#ffffff">AUH</text>
<rect x="1030.5" y="743.3" width="114.9" height="62.8" rx="5.5" fill="#5e5d5d" fill-opacity="0.72"/>
<text x="1088.0" y="785.8" font-size="41" text-anchor="middle" fill="#ffffff">FJR</text>
<rect x="696.7" y="1177.9" width="124.4" height="62.8" rx="5.5" fill="#5e5d5d" fill-opacity="0.72"/>
<text x="758.9" y="1220.4" font-size="41" text-anchor="middle" fill="#ffffff">AAN</text>
<circle cx="1125.7" cy="267" r="46.5" fill="#ffffff" fill-opacity="0.6"/>
<circle cx="1125.7" cy="267" r="41.6" fill="#ffffff" stroke="#0a0a0a" stroke-width="2.6"/>
<circle cx="1125.7" cy="409.8" r="46.5" fill="#ffffff" fill-opacity="0.6"/>
<circle cx="1125.7" cy="409.8" r="41.6" fill="#ffffff" stroke="#0a0a0a" stroke-width="2.6"/>
<circle cx="1125.7" cy="552.8" r="46.5" fill="#ffffff" fill-opacity="0.6"/>
<circle cx="1125.7" cy="552.8" r="41.6" fill="#ffffff" stroke="#0a0a0a" stroke-width="2.6"/>
<path d="M1103.9 267H1147.5M1125.7 245.2V288.8" stroke="#3b3a39" stroke-width="3.6" fill="none"/>
<path d="M1103.9 409.8H1147.5" stroke="#3b3a39" stroke-width="3.6" fill="none"/>
<path d="M1124.5 571.3H1100.3V537.7H1150.7V562" stroke="#3b3a39" stroke-width="3" fill="none"/>
<path d="M1129.4 548.4V575.6L1135.9 570L1140.6 579.6L1146.4 576.8L1142 567.6H1150.4Z" fill="#ffffff" stroke="#2b2a29" stroke-width="2.2" stroke-linejoin="miter"/>
<circle cx="829.9" cy="1502.0" r="86.8" fill="#eef6fb"/>
<path d="M829.9,1502.0L829.90,1416.40A85.6,85.6 0 1 1 786.97,1576.06Z" fill="#3e83c4"/>
<path d="M829.9,1502.0L786.97,1576.06A85.6,85.6 0 0 1 745.50,1487.72Z" fill="#53b595"/>
<path d="M829.9,1502.0L745.50,1487.72A85.6,85.6 0 0 1 808.32,1419.16Z" fill="#3fa2dd"/>
<path d="M829.9,1502.0L808.32,1419.16A85.6,85.6 0 0 1 829.90,1416.40Z" fill="#4fc4d2"/>
<text x="830.7" y="1370.2" font-size="48" text-anchor="middle" fill="#252423">2024 Share by Airport</text>
<text x="716.5" y="1448.8" font-size="40.5" text-anchor="end" fill="#252423">AUH 18%</text>
<text x="700.2" y="1552.8" font-size="40.5" text-anchor="end" fill="#252423">DWC 19%</text>
<text x="964.5" y="1539.2" font-size="40.5" text-anchor="start" fill="#252423">DXB 59%</text>
<path d="M728.6 1436.5H757.2L766.7 1443.6" stroke="#8a8886" stroke-width="1.6" fill="none"/>
<path d="M711.8 1542.5H743.6L751.7 1538.7" stroke="#8a8886" stroke-width="1.6" fill="none"/>
<path d="M914.8 1525.1L922.9 1527.6H954.2" stroke="#8a8886" stroke-width="1.6" fill="none"/>
<rect x="152.2" y="1588.7" width="11.6" height="11.6" fill="#f25022"/>
<rect x="165.4" y="1588.7" width="11.6" height="11.6" fill="#7fba00"/>
<rect x="152.2" y="1601.9" width="11.6" height="11.6" fill="#00a4ef"/>
<rect x="165.4" y="1601.9" width="11.6" height="11.6" fill="#ffb900"/>
<text x="183.5" y="1609.5" font-size="20.5" fill="#6b6b6b">Microsoft Bing</text>
<text x="1320.0" y="248.0" font-size="47.7" text-anchor="start" fill="#252423" font-weight="normal" >All UAE Airports</text>
<line x1="1404.6" y1="842.9" x2="2291.5" y2="842.9" stroke="#cfcdc9" stroke-width="2.2" stroke-dasharray="2.2 10.7" stroke-linecap="butt"/>
<text x="1379.0" y="856.2" font-size="41" text-anchor="end" fill="#252423" font-weight="normal" >0M</text>
<line x1="1404.6" y1="731.3" x2="2291.5" y2="731.3" stroke="#cfcdc9" stroke-width="2.2" stroke-dasharray="2.2 10.7" stroke-linecap="butt"/>
<text x="1379.0" y="744.6" font-size="41" text-anchor="end" fill="#252423" font-weight="normal" >1M</text>
<line x1="1404.6" y1="619.7" x2="2291.5" y2="619.7" stroke="#cfcdc9" stroke-width="2.2" stroke-dasharray="2.2 10.7" stroke-linecap="butt"/>
<text x="1379.0" y="633.0" font-size="41" text-anchor="end" fill="#252423" font-weight="normal" >2M</text>
<line x1="1404.6" y1="508.1" x2="2291.5" y2="508.1" stroke="#cfcdc9" stroke-width="2.2" stroke-dasharray="2.2 10.7" stroke-linecap="butt"/>
<text x="1379.0" y="521.4" font-size="41" text-anchor="end" fill="#252423" font-weight="normal" >3M</text>
<line x1="1404.6" y1="396.5" x2="2291.5" y2="396.5" stroke="#cfcdc9" stroke-width="2.2" stroke-dasharray="2.2 10.7" stroke-linecap="butt"/>
<text x="1379.0" y="409.8" font-size="41" text-anchor="end" fill="#252423" font-weight="normal" >4M</text>
<rect x="1404.3" y="359.2" width="104.6" height="483.7" fill="#3e83c4"/>
<rect x="1534.8" y="385.0" width="104.6" height="457.9" fill="#3e83c4"/>
<rect x="1665.4" y="515.7" width="104.5" height="327.2" fill="#3e83c4"/>
<rect x="1795.9" y="467.1" width="104.6" height="375.8" fill="#3e83c4"/>
<rect x="1926.5" y="519.1" width="104.5" height="323.8" fill="#3e83c4"/>
<rect x="2057.0" y="501.8" width="104.3" height="341.1" fill="#3e83c4"/>
<rect x="2187.7" y="427.3" width="104.1" height="415.6" fill="#3e83c4"/>
<rect x="2001.7" y="667.2" width="262.8" height="130.4" fill="#f7f6f2"/>
<text x="2132.6" y="710.4" font-size="47" text-anchor="middle" fill="#252423" font-weight="normal" >2024</text>
<text x="2132.6" y="772.9" font-size="47" text-anchor="middle" fill="#252423" font-weight="normal" >21.9%</text>
<text x="1456.6" y="337.7" font-size="41" text-anchor="middle" fill="#252423" font-weight="normal" >4.3M</text>
<text x="1587.1" y="363.5" font-size="41" text-anchor="middle" fill="#252423" font-weight="normal" >4.1M</text>
<text x="1717.7" y="494.2" font-size="41" text-anchor="middle" fill="#252423" font-weight="normal" >2.9M</text>
<text x="1848.2" y="445.6" font-size="41" text-anchor="middle" fill="#252423" font-weight="normal" >3.4M</text>
<text x="1978.8" y="497.6" font-size="41" text-anchor="middle" fill="#252423" font-weight="normal" >2.9M</text>
<text x="2239.8" y="405.8" font-size="41" text-anchor="middle" fill="#252423" font-weight="normal" >3.7M</text>
<text x="1457.8" y="894.8" font-size="41" text-anchor="middle" fill="#252423" font-weight="normal" >2018</text>
<text x="1718.9" y="894.8" font-size="41" text-anchor="middle" fill="#252423" font-weight="normal" >2020</text>
<text x="1980.0" y="894.8" font-size="41" text-anchor="middle" fill="#252423" font-weight="normal" >2022</text>
<text x="2240.9" y="894.8" font-size="41" text-anchor="middle" fill="#252423" font-weight="normal" >2024</text>
<text x="2380.8" y="236.4" font-size="48" text-anchor="start" fill="#252423" font-weight="normal" >DXB</text>
<line x1="2466.2" y1="831.7" x2="3352.5" y2="831.7" stroke="#cfcdc9" stroke-width="2.2" stroke-dasharray="2.2 10.7" stroke-linecap="butt"/>
<text x="2440.0" y="845.0" font-size="41" text-anchor="end" fill="#252423" font-weight="normal" >0M</text>
<line x1="2466.2" y1="649.1" x2="3352.5" y2="649.1" stroke="#cfcdc9" stroke-width="2.2" stroke-dasharray="2.2 10.7" stroke-linecap="butt"/>
<text x="2440.0" y="662.4" font-size="41" text-anchor="end" fill="#252423" font-weight="normal" >1M</text>
<line x1="2466.2" y1="466.0" x2="3352.5" y2="466.0" stroke="#cfcdc9" stroke-width="2.2" stroke-dasharray="2.2 10.7" stroke-linecap="butt"/>
<text x="2440.0" y="479.3" font-size="41" text-anchor="end" fill="#252423" font-weight="normal" >2M</text>
<rect x="2465.9" y="347.0" width="104.0" height="484.7" fill="#3e83c4"/>
<rect x="2596.5" y="369.5" width="104.0" height="462.2" fill="#3e83c4"/>
<rect x="2726.5" y="477.0" width="104.0" height="354.7" fill="#3e83c4"/>
<rect x="2857.0" y="405.9" width="104.0" height="425.8" fill="#3e83c4"/>
<rect x="2987.6" y="514.5" width="104.0" height="317.2" fill="#3e83c4"/>
<rect x="3118.2" y="499.5" width="104.0" height="332.2" fill="#3e83c4"/>
<rect x="3248.8" y="431.9" width="104.0" height="399.8" fill="#3e83c4"/>
<rect x="3060.4" y="667.2" width="262.3" height="130.4" fill="#f7f6f2"/>
<text x="3191.1" y="710.4" font-size="47" text-anchor="middle" fill="#252423" font-weight="normal" >2024</text>
<text x="3191.1" y="772.9" font-size="47" text-anchor="middle" fill="#252423" font-weight="normal" >20.5%</text>
<text x="2517.9" y="325.5" font-size="41" text-anchor="middle" fill="#252423" font-weight="normal" >2.6M</text>
<text x="2648.5" y="348.0" font-size="41" text-anchor="middle" fill="#252423" font-weight="normal" >2.5M</text>
<text x="2778.5" y="455.5" font-size="41" text-anchor="middle" fill="#252423" font-weight="normal" >1.9M</text>
<text x="2909.0" y="384.4" font-size="41" text-anchor="middle" fill="#252423" font-weight="normal" >2.3M</text>
<text x="3039.6" y="493.0" font-size="41" text-anchor="middle" fill="#252423" font-weight="normal" >1.7M</text>
<text x="3300.8" y="410.4" font-size="41" text-anchor="middle" fill="#252423" font-weight="normal" >2.2M</text>
<text x="2519.1" y="883.6" font-size="41" text-anchor="middle" fill="#252423" font-weight="normal" >2018</text>
<text x="2779.7" y="883.6" font-size="41" text-anchor="middle" fill="#252423" font-weight="normal" >2020</text>
<text x="3040.8" y="883.6" font-size="41" text-anchor="middle" fill="#252423" font-weight="normal" >2022</text>
<text x="3302.0" y="883.6" font-size="41" text-anchor="middle" fill="#252423" font-weight="normal" >2024</text>
<text x="1320.0" y="1009.6" font-size="48" text-anchor="start" fill="#252423" font-weight="normal" >AUH</text>
<line x1="1437.7" y1="1604.4" x2="2291.3" y2="1604.4" stroke="#cfcdc9" stroke-width="2.2" stroke-dasharray="2.2 10.7" stroke-linecap="butt"/>
<text x="1412.3" y="1617.7" font-size="41" text-anchor="end" fill="#252423" font-weight="normal" >0.0M</text>
<line x1="1437.7" y1="1470.4" x2="2291.3" y2="1470.4" stroke="#cfcdc9" stroke-width="2.2" stroke-dasharray="2.2 10.7" stroke-linecap="butt"/>
<text x="1412.3" y="1483.7" font-size="41" text-anchor="end" fill="#252423" font-weight="normal" >0.2M</text>
<line x1="1437.7" y1="1335.8" x2="2291.3" y2="1335.8" stroke="#cfcdc9" stroke-width="2.2" stroke-dasharray="2.2 10.7" stroke-linecap="butt"/>
<text x="1412.3" y="1349.1" font-size="41" text-anchor="end" fill="#252423" font-weight="normal" >0.4M</text>
<line x1="1437.7" y1="1200.6" x2="2291.3" y2="1200.6" stroke="#cfcdc9" stroke-width="2.2" stroke-dasharray="2.2 10.7" stroke-linecap="butt"/>
<text x="1412.3" y="1213.9" font-size="41" text-anchor="end" fill="#252423" font-weight="normal" >0.6M</text>
<line x1="1437.7" y1="1065.4" x2="2291.3" y2="1065.4" stroke="#cfcdc9" stroke-width="2.2" stroke-dasharray="2.2 10.7" stroke-linecap="butt"/>
<text x="1412.3" y="1078.7" font-size="41" text-anchor="end" fill="#252423" font-weight="normal" >0.8M</text>
<rect x="1437.4" y="1200.7" width="101.0" height="403.7" fill="#3e83c4"/>
<rect x="1563.1" y="1221.4" width="100.5" height="383.0" fill="#3e83c4"/>
<rect x="1688.5" y="1237.0" width="100.5" height="367.4" fill="#3e83c4"/>
<rect x="1814.4" y="1119.1" width="100.5" height="485.3" fill="#3e83c4"/>
<rect x="1939.8" y="1208.6" width="100.5" height="395.8" fill="#3e83c4"/>
<rect x="2065.7" y="1225.4" width="100.5" height="379.0" fill="#3e83c4"/>
<rect x="2191.1" y="1145.1" width="100.5" height="459.3" fill="#3e83c4"/>
<rect x="2002.2" y="1425.9" width="262.2" height="130.5" fill="#f7f6f2"/>
<text x="2132.8" y="1469.1" font-size="47" text-anchor="middle" fill="#252423" font-weight="normal" >2024</text>
<text x="2132.8" y="1531.6" font-size="47" text-anchor="middle" fill="#252423" font-weight="normal" >21.0%</text>
<text x="1494.2" y="1179.2" font-size="41" text-anchor="middle" fill="#252423" font-weight="normal" >0.60M</text>
<text x="1613.3" y="1199.9" font-size="41" text-anchor="middle" fill="#252423" font-weight="normal" >0.57M</text>
<text x="1738.8" y="1215.5" font-size="41" text-anchor="middle" fill="#252423" font-weight="normal" >0.55M</text>
<text x="1864.7" y="1097.6" font-size="41" text-anchor="middle" fill="#252423" font-weight="normal" >0.72M</text>
<text x="2115.9" y="1203.9" font-size="41" text-anchor="middle" fill="#252423" font-weight="normal" >0.56M</text>
<text x="2234.3" y="1123.6" font-size="41" text-anchor="middle" fill="#252423" font-weight="normal" >0.68M</text>
<text x="1489.1" y="1656.3" font-size="41" text-anchor="middle" fill="#252423" font-weight="normal" >2018</text>
<text x="1740.0" y="1656.3" font-size="41" text-anchor="middle" fill="#252423" font-weight="normal" >2020</text>
<text x="1991.2" y="1656.3" font-size="41" text-anchor="middle" fill="#252423" font-weight="normal" >2022</text>
<text x="2242.5" y="1656.3" font-size="41" text-anchor="middle" fill="#252423" font-weight="normal" >2024</text>
<text x="2380.8" y="1009.6" font-size="48" text-anchor="start" fill="#252423" font-weight="normal" >DWC</text>
<line x1="2499.3" y1="1604.4" x2="3353.1" y2="1604.4" stroke="#cfcdc9" stroke-width="2.2" stroke-dasharray="2.2 10.7" stroke-linecap="butt"/>
<text x="2474.0" y="1617.7" font-size="41" text-anchor="end" fill="#252423" font-weight="normal" >0.0M</text>
<line x1="2499.3" y1="1357.1" x2="3353.1" y2="1357.1" stroke="#cfcdc9" stroke-width="2.2" stroke-dasharray="2.2 10.7" stroke-linecap="butt"/>
<text x="2474.0" y="1370.4" font-size="41" text-anchor="end" fill="#252423" font-weight="normal" >0.5M</text>
<line x1="2499.3" y1="1109.3" x2="3353.1" y2="1109.3" stroke="#cfcdc9" stroke-width="2.2" stroke-dasharray="2.2 10.7" stroke-linecap="butt"/>
<text x="2474.0" y="1122.6" font-size="41" text-anchor="end" fill="#252423" font-weight="normal" >1.0M</text>
<rect x="2499.0" y="1114.0" width="100.9" height="490.4" fill="#3e83c4"/>
<rect x="2624.8" y="1152.0" width="100.5" height="452.4" fill="#3e83c4"/>
<rect x="2750.2" y="1421.3" width="100.5" height="183.1" fill="#3e83c4"/>
<rect x="2876.1" y="1502.7" width="100.6" height="101.7" fill="#3e83c4"/>
<rect x="3001.5" y="1372.1" width="100.5" height="232.3" fill="#3e83c4"/>
<rect x="3127.5" y="1318.4" width="100.5" height="286.0" fill="#3e83c4"/>
<rect x="3252.8" y="1251.4" width="100.6" height="353.0" fill="#3e83c4"/>
<rect x="3081.2" y="1425.9" width="262.3" height="130.5" fill="#f7f6f2"/>
<text x="3211.8" y="1469.1" font-size="47" text-anchor="middle" fill="#252423" font-weight="normal" >2024</text>
<text x="3211.8" y="1531.6" font-size="47" text-anchor="middle" fill="#252423" font-weight="normal" >23.5%</text>
<text x="2555.2" y="1092.5" font-size="41" text-anchor="middle" fill="#252423" font-weight="normal" >0.99M</text>
<text x="2675.1" y="1130.5" font-size="41" text-anchor="middle" fill="#252423" font-weight="normal" >0.91M</text>
<text x="2800.4" y="1399.8" font-size="41" text-anchor="middle" fill="#252423" font-weight="normal" >0.37M</text>
<text x="2926.4" y="1481.2" font-size="41" text-anchor="middle" fill="#252423" font-weight="normal" >0.21M</text>
<text x="3177.8" y="1296.9" font-size="41" text-anchor="middle" fill="#252423" font-weight="normal" >0.58M</text>
<text x="3295.6" y="1229.9" font-size="41" text-anchor="middle" fill="#252423" font-weight="normal" >0.71M</text>
<text x="2550.6" y="1656.3" font-size="41" text-anchor="middle" fill="#252423" font-weight="normal" >2018</text>
<text x="2801.6" y="1656.3" font-size="41" text-anchor="middle" fill="#252423" font-weight="normal" >2020</text>
<text x="3052.9" y="1656.3" font-size="41" text-anchor="middle" fill="#252423" font-weight="normal" >2022</text>
<text x="3304.3" y="1656.3" font-size="41" text-anchor="middle" fill="#252423" font-weight="normal" >2024</text>
</svg>
</body></html>
